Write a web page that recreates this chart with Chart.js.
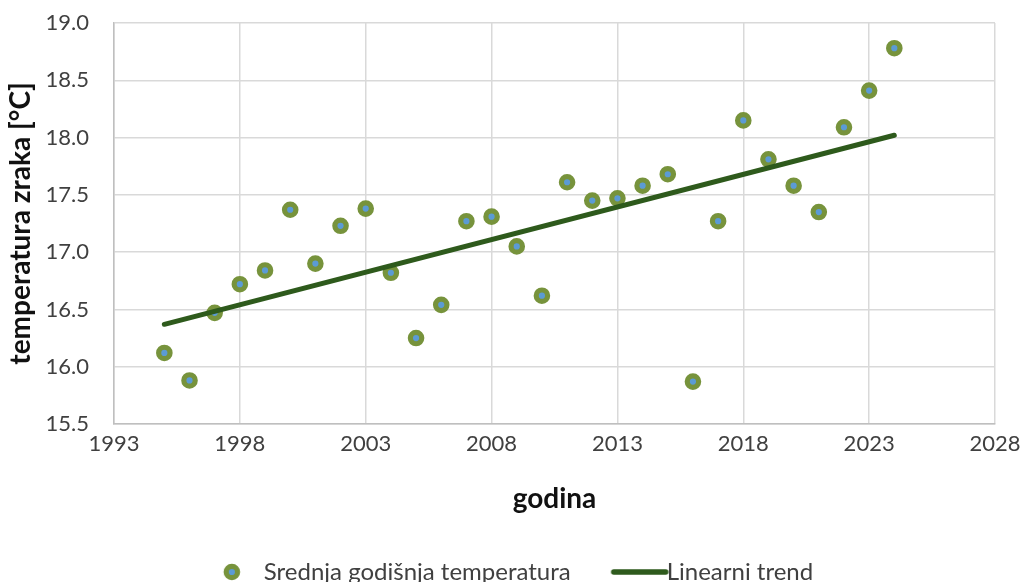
<!DOCTYPE html>
<html>
<head>
<meta charset="utf-8">
<script src="https://cdn.jsdelivr.net/npm/chart.js@4.4.1/dist/chart.umd.min.js"></script>
<style>
html,body{margin:0;padding:0;background:#fff;}
#wrap{width:1023px;height:582px;position:relative;}
</style>
</head>
<body>
<div id="wrap"><canvas id="c" width="1023" height="582"></canvas></div>
<script>
// ---- data ----
const years = [1995,1996,1997,1998,1999,2000,2001,2002,2003,2004,2005,2006,2007,2008,2009,2010,2011,2012,2013,2014,2015,2016,2017,2018,2019,2020,2021,2022,2023,2024];
const temps = [16.12,15.88,16.47,16.72,16.84,17.37,16.90,17.23,17.38,16.82,16.25,16.54,17.27,17.31,17.05,16.62,17.61,17.45,17.47,17.58,17.68,15.87,17.27,18.15,17.81,17.58,17.35,18.09,18.41,18.78];
const trendYears = [1995, 2024];
const trendValues = [16.37, 18.02];
const seriesLabels = ['Srednja godišnja temperatura', 'Linearni trend'];
const xTitle = 'godina';
const yTitle = 'temperatura zraka [°C]';

const FONT = 'Lato, "Open Sans", sans-serif';
const GREEN = '#77933C';
const BLUE = '#5B9BD5';
const DARK = '#2E5A1C';

// legend marker images
const markerImg = document.createElement('canvas');
markerImg.width = 20; markerImg.height = 20;
(function(){
  const g = markerImg.getContext('2d');
  g.beginPath(); g.arc(10,10,5.7,0,Math.PI*2);
  g.fillStyle = BLUE; g.fill();
  g.lineWidth = 5.2; g.strokeStyle = GREEN; g.stroke();
})();
const lineImg = document.createElement('canvas');
lineImg.width = 70; lineImg.height = 8;
(function(){
  const g = lineImg.getContext('2d');
  g.beginPath(); g.moveTo(14,4); g.lineTo(66,4);
  g.lineWidth = 5.5; g.lineCap = 'round'; g.strokeStyle = DARK; g.stroke();
})();

const legendShift = {
  id: 'legendShift',
  afterLayout(chart) {
    if (chart.legend) { chart.legend.left += 15; chart.legend.right += 15; }
  }
};

const chart = new Chart(document.getElementById('c'), {
  type: 'scatter',
  plugins: [legendShift],
  data: {
    datasets: [
      {
        label: seriesLabels[0],
        data: years.map((y, i) => ({x: y, y: temps[i]})),
        pointRadius: 5.7,
        pointBorderWidth: 5.2,
        pointBackgroundColor: BLUE,
        pointBorderColor: GREEN,
        showLine: false,
        order: 1
      },
      {
        label: seriesLabels[1],
        data: trendYears.map((y, i) => ({x: y, y: trendValues[i]})),
        showLine: true,
        borderColor: DARK,
        borderWidth: 5,
        borderCapStyle: 'round',
        pointRadius: 0,
        order: 0
      }
    ]
  },
  options: {
    responsive: false,
    animation: false,
    layout: {padding: {top: 23, right: 28, left: 0, bottom: 0}},
    plugins: {
      tooltip: {enabled: false},
      legend: {
        position: 'bottom',
        maxHeight: 66,
        labels: {
          usePointStyle: true,
          pointStyleWidth: 40,
          padding: 44,
          color: '#404040',
          font: {family: FONT, size: 24},
          generateLabels: () => [
            {text: seriesLabels[0], pointStyle: markerImg, datasetIndex: 0, hidden: false, lineWidth: 1, fillStyle: BLUE, strokeStyle: GREEN, fontColor: '#404040'},
            {text: seriesLabels[1], pointStyle: lineImg, datasetIndex: 1, hidden: false, lineWidth: 1, fillStyle: DARK, strokeStyle: DARK, fontColor: '#404040'}
          ]
        }
      }
    },
    scales: {
      x: {
        type: 'linear',
        min: 1993, max: 2028,
        ticks: {stepSize: 5, callback: v => String(v), color: '#404040', font: {family: FONT, size: 22}, padding: 0, maxRotation: 0},
        grid: {color: '#d9d9d9', lineWidth: 1.5, drawTicks: true, tickLength: 7, tickColor: 'rgba(0,0,0,0)'},
        border: {color: '#bfbfbf', width: 1.5},
        title: {display: true, text: xTitle, color: '#111', font: {family: FONT, size: 28, weight: 'bold'}, padding: {top: 0, bottom: 0}},
        afterFit: s => { s.height = 92; }
      },
      y: {
        min: 15.5, max: 19.0,
        ticks: {stepSize: 0.5, callback: v => Number(v).toFixed(1), color: '#404040', font: {family: FONT, size: 22}, padding: 0},
        grid: {color: '#d9d9d9', lineWidth: 1.5, drawTicks: true, tickLength: 25, tickColor: 'rgba(0,0,0,0)'},
        border: {color: '#bfbfbf', width: 1.5},
        title: {display: true, text: yTitle, color: '#111', font: {family: FONT, size: 28, weight: 'bold'}, padding: {top: 4, bottom: 0}},
        afterFit: s => { s.width = 114; }
      }
    }
  }
});
</script>
</body>
</html>
